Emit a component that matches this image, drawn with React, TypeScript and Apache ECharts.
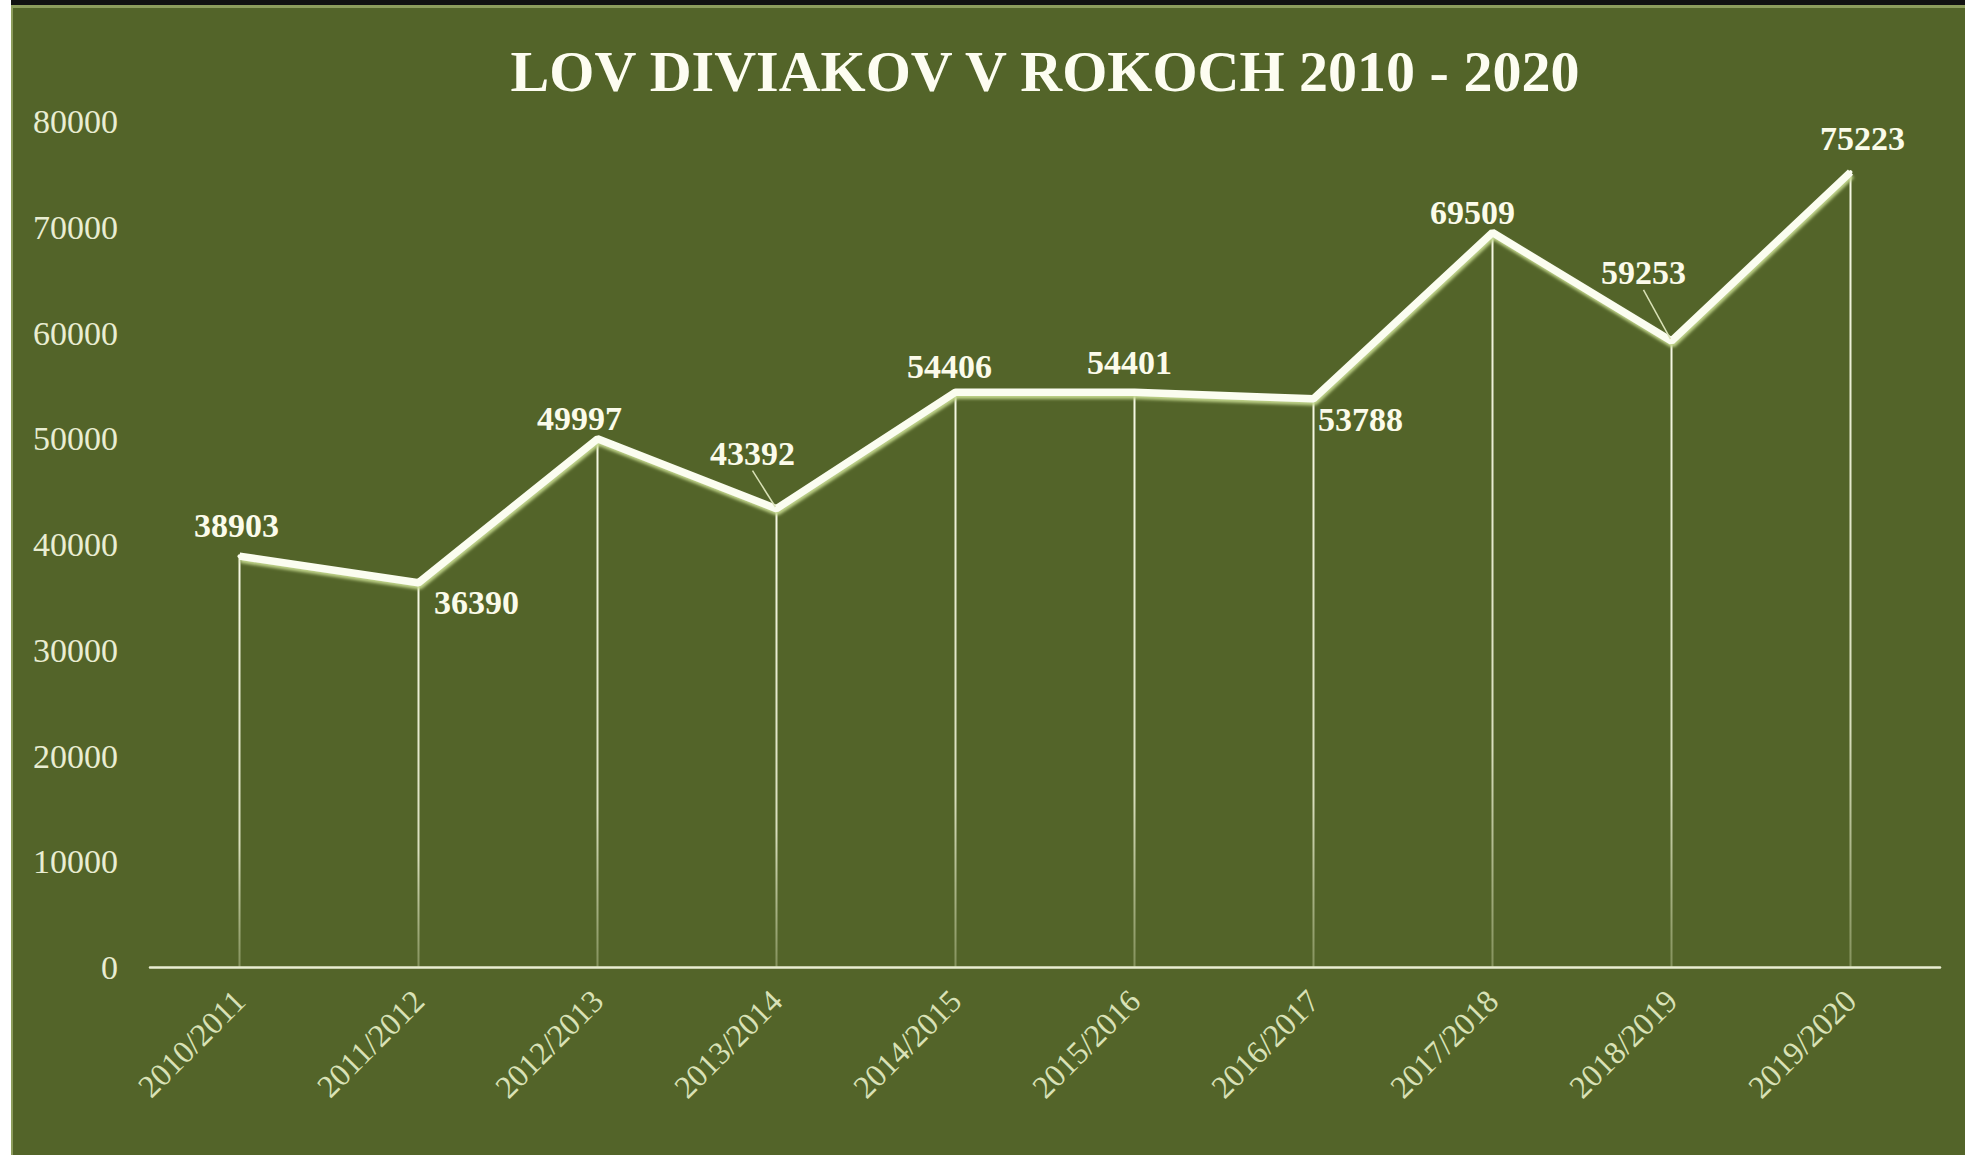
import React, { useEffect, useRef } from "react";
import * as echarts from "echarts";

const TITLE = "LOV DIVIAKOV V ROKOCH 2010 - 2020";
const categories = [
  "2010/2011",
  "2011/2012",
  "2012/2013",
  "2013/2014",
  "2014/2015",
  "2015/2016",
  "2016/2017",
  "2017/2018",
  "2018/2019",
  "2019/2020",
];
const values = [38903, 36390, 49997, 43392, 54406, 54401, 53788, 69509, 59253, 75223];
const yMin = 0;
const yMax = 80000;
const yInterval = 10000;

// label displacement (px) from each point, and which labels get a leader line
const labelOffsets: number[][] = [
  [-3, -31],
  [58, 20],
  [-18, -20],
  [-24, -55],
  [-6, -26],
  [-5, -30],
  [47, 21],
  [-20, -20],
  [-28, -68],
  [12, -34],
];
const leaderLines = [false, false, false, true, false, false, false, false, true, false];

const BG = "#536429";
const SERIF = "'Liberation Serif', 'Times New Roman', serif";

export default function App() {
  const ref = useRef<HTMLDivElement>(null);
  useEffect(() => {
    if (!ref.current) return;
    const chart = echarts.init(ref.current, null, { renderer: "svg" });
    const option: any = {
      animation: false,
      backgroundColor: BG,
      title: {
        text: TITLE,
        left: 1040,
        top: 37,
        textAlign: "center",
        textStyle: {
          fontFamily: SERIF,
          fontWeight: "bold",
          fontSize: 58,
          color: "#fdfdf1",
        },
      },
      grid: { left: 150, right: 25, top: 121.6, bottom: 187.5, containLabel: false },
      xAxis: {
        type: "category",
        data: categories,
        boundaryGap: true,
        axisLine: { show: true, lineStyle: { color: "#e9edd2", width: 2.5 } },
        axisTick: { show: false },
        splitLine: { show: false },
        axisLabel: {
          rotate: 45,
          margin: 28,
          interval: 0,
          fontFamily: SERIF,
          fontSize: 32,
          color: "#d9e1b6",
        },
      },
      yAxis: {
        type: "value",
        min: yMin,
        max: yMax,
        interval: yInterval,
        axisLine: { show: false },
        axisTick: { show: false },
        splitLine: { show: false },
        axisLabel: {
          margin: 32,
          fontFamily: SERIF,
          fontSize: 34,
          color: "#e9edd2",
          formatter: (v: number) => String(v),
        },
      },
      series: [
        {
          type: "bar",
          data: values,
          barWidth: 2,
          z: 1,
          silent: true,
          itemStyle: {
            color: new echarts.graphic.LinearGradient(0, 0, 0, 1, [
              { offset: 0, color: "rgba(246,248,228,1)" },
              { offset: 0.7, color: "rgba(240,244,215,0.85)" },
              { offset: 1, color: "rgba(225,232,190,0.35)" },
            ]),
          },
        },
        {
          type: "line",
          data: values.map((v, i) => ({
            value: v,
            labelLine: { show: leaderLines[i] },
          })),
          z: 3,
          symbol: "circle",
          symbolSize: 4,
          showSymbol: true,
          itemStyle: { color: "#fbfdf0" },
          lineStyle: {
            color: "#fbfdf0",
            width: 7.5,
            shadowColor: "rgba(195,215,140,0.95)",
            shadowBlur: 3,
            shadowOffsetX: 1,
            shadowOffsetY: 3,
          },
          label: {
            show: true,
            position: "inside",
            fontFamily: SERIF,
            fontWeight: "bold",
            fontSize: 34,
            color: "#fbfbea",
          },
          labelLine: {
            show: false,
            lineStyle: { color: "#d9e1b6", width: 1.5 },
          },
          labelLayout: (params: any) => {
            const o = labelOffsets[params.dataIndex] || [0, 0];
            return { dx: o[0], dy: o[1] };
          },
        },
      ],
      graphic: [
        { type: "rect", shape: { x: 0, y: 0, width: 11, height: 1155 }, style: { fill: "#ffffff" }, z: 100 },
        { type: "rect", shape: { x: 11, y: 0, width: 1954, height: 5 }, style: { fill: "#111111" }, z: 100 },
        { type: "rect", shape: { x: 11, y: 5, width: 1954, height: 3 }, style: { fill: "#8c9c5c" }, z: 100 },
        { type: "rect", shape: { x: 11, y: 5, width: 2, height: 1150 }, style: { fill: "#8c9c5c" }, z: 100 },
      ],
    };
    chart.setOption(option);
    return () => chart.dispose();
  }, []);
  return (
    <div
      ref={ref}
      style={{ position: "absolute", left: 0, top: 0, width: 1965, height: 1155 }}
    />
  );
}
